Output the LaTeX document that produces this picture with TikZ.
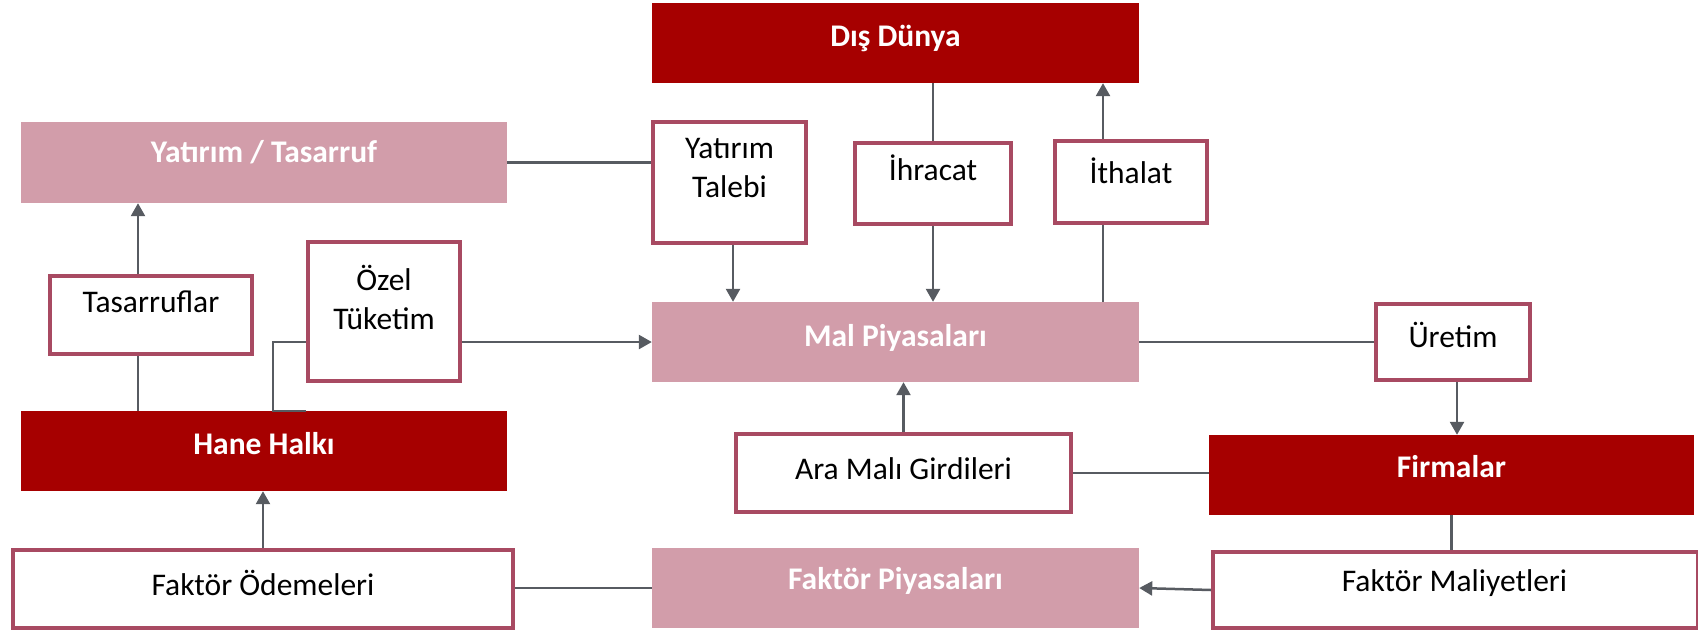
\documentclass[tikz,border=0pt]{standalone}
\usepackage{fontspec}
\setmainfont{Carlito}
\usetikzlibrary{arrows.meta,calc}
\definecolor{darkred}{HTML}{A60000}
\definecolor{pinkbox}{HTML}{D29DAA}
\definecolor{bordercol}{HTML}{A84A62}
\definecolor{linecol}{HTML}{575B61}
\tikzset{
  filledbox/.style={draw=none, inner sep=0pt, minimum width=#1},
  darkbox/.style={filledbox=487pt, fill=darkred, minimum height=80pt},
  pinkboxstyle/.style={filledbox=487pt, fill=pinkbox, minimum height=80pt},
  outbox/.style={draw=bordercol, fill=white, line width=4pt, inner sep=0pt},
  btxt/.style={anchor=base, text=white, font=\fontsize{31.5}{39}\selectfont\bfseries, inner sep=0pt},
  otxt/.style={anchor=base, text=black, font=\fontsize{31.5}{39}\selectfont, inner sep=0pt, align=center},
  conn/.style={draw=linecol, line width=2.5pt},
  arr/.style={conn, -{Triangle[width=14pt,length=13pt]}},
}
\begin{document}
\begin{tikzpicture}[x=1pt,y=-1pt]
\useasboundingbox (0,0) rectangle (1698,635);
% filled boxes
\node[darkbox] (dis) at (895.5,43) {};
\node[pinkboxstyle, minimum width=486pt, minimum height=81pt] (yt) at (264,162.5) {};
\node[pinkboxstyle] (mal) at (895.5,342) {};
\node[darkbox, minimum width=486pt] (hane) at (264,451) {};
\node[darkbox, minimum width=485pt] (firm) at (1451.5,475) {};
\node[pinkboxstyle] (fpi) at (895.5,588) {};
% outlined boxes
\node[outbox, minimum width=153pt, minimum height=121pt] (ytal) at (729.5,182.5) {};
\node[outbox, minimum width=156pt, minimum height=81pt] (ihr) at (933,183.5) {};
\node[outbox, minimum width=152pt, minimum height=82pt] (ith) at (1131,182) {};
\node[outbox, minimum width=202pt, minimum height=78pt] (tas) at (151,315) {};
\node[outbox, minimum width=152pt, minimum height=139pt] (ozel) at (384,311.5) {};
\node[outbox, minimum width=154pt, minimum height=76pt] (ure) at (1453,342) {};
\node[outbox, minimum width=335pt, minimum height=78pt] (ara) at (903.5,473) {};
\node[outbox, minimum width=500pt, minimum height=78pt] (fod) at (263,589) {};
\node[outbox, minimum width=485pt, minimum height=76pt] (fmal) at (1455.5,590) {};
% texts
\node[btxt] (t-dis) at (895.5,46) {Dış Dünya};
\node[btxt] (t-yt) at (264,162) {Yatırım / Tasarruf};
\node[btxt] (t-mal) at (895.5,346) {Mal Piyasaları};
\node[btxt] (t-hane) at (264,454) {Hane Halkı};
\node[btxt] (t-firm) at (1451.5,477) {Firmalar};
\node[btxt] (t-fpi) at (895.5,589) {Faktör Piyasaları};
\node[otxt] (t-ytal) at (729.5,197) {Yatırım\\Talebi};
\node[otxt] (t-ihr) at (933,180) {İhracat};
\node[otxt] (t-ith) at (1131,183) {İthalat};
\node[otxt] (t-tas) at (151,312) {Tasarruflar};
\node[otxt] (t-ozel) at (384,329) {Özel\\Tüketim};
\node[otxt] (t-ure) at (1453,347) {Üretim};
\node[otxt] (t-ara) at (903.5,479) {Ara Malı Girdileri};
\node[otxt] (t-fod) at (263,595) {Faktör Ödemeleri};
\node[otxt] (t-fmal) at (1454.5,591) {Faktör Maliyetleri};
% helper coordinates
\coordinate (ithx) at (1103,0);
\coordinate (tasx) at (138,0);
\coordinate (ytx) at (733,0);
\coordinate (urex) at (1457,0);
\coordinate (oz1) at (273,342);
\coordinate (hstub) at (306,411);
% connectors
\draw[conn] (yt.east) -- (ytal.west |- yt.east);
\draw[arr] (ytx |- ytal.south) -- (ytx |- mal.north);
\draw[conn] (ihr.north |- dis.south) -- (ihr.north);
\draw[arr] (ihr.south) -- (ihr.south |- mal.north);
\draw[conn] (ithx |- mal.north) -- (ithx |- ith.south);
\draw[arr] (ithx |- ith.north) -- (ithx |- dis.south);
\draw[arr] (tasx |- tas.north) -- (tasx |- yt.south);
\draw[conn] (tasx |- hane.north) -- (tasx |- tas.south);
\draw[conn] (hstub) -- (hstub -| oz1) -- (oz1) -- (ozel.west |- oz1);
\draw[arr] (ozel.east |- oz1) -- (mal.west |- oz1);
\draw[conn] (mal.east) -- (ure.west);
\draw[arr] (urex |- ure.south) -- (urex |- firm.north);
\draw[arr] (ara.north) -- (ara.north |- mal.south);
\draw[conn] (ara.east) -- (ara.east -| firm.west);
\draw[conn] (firm.south) -- (firm.south |- fmal.north);
\draw[arr] (fmal.west) -- (fpi.east);
\draw[conn] (fpi.west) -- (fpi.west -| fod.east);
\draw[arr] (fod.north) -- (fod.north |- hane.south);
\end{tikzpicture}
\end{document}
